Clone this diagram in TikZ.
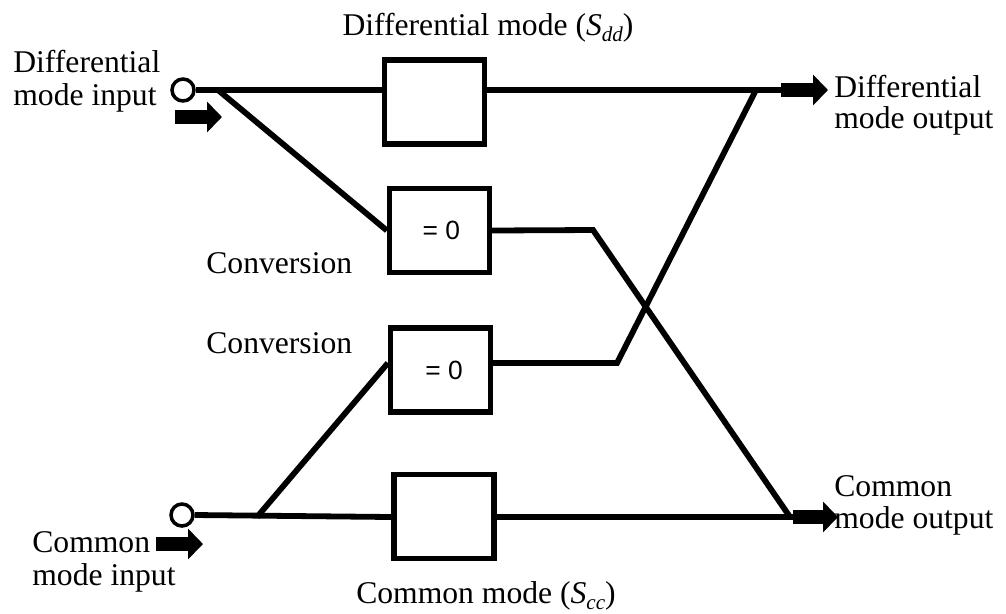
\documentclass[tikz,border=0pt]{standalone}
\usepackage{fontspec}
\setmainfont{Liberation Serif}
\newfontfamily\sansfam{Liberation Sans}
\usetikzlibrary{arrows.meta}

\newcommand{\subit}[1]{\raisebox{-3.5pt}{\fontsize{12}{12}\selectfont\itshape #1}}

\begin{document}
\begin{tikzpicture}[
  x=0.02cm, y=-0.02cm,
  blk/.style={rectangle, draw, line width=3pt, minimum width=2cm, minimum height=1.68cm, font=\sansfam\fontsize{15}{17}\selectfont},
  port/.style={circle, draw, line width=2pt, minimum size=0.44cm, inner sep=0pt},
  wire/.style={line width=3.3pt},
  fat/.style={line width=0.27cm, -{Triangle[length=0.3cm, width=0.6cm]}},
  lbl/.style={inner sep=0pt, align=left, font=\fontsize{18}{16.5}\selectfont}
]
\useasboundingbox (0,0) rectangle (1006,613);

% blocks
\node[blk] (dmbox) at (434.5,102) {};
\node[blk] (convup) at (439.5,230.5) {\hspace{2pt}= 0};
\node[blk] (convlow) at (440.5,370) {\hspace{4pt}= 0};
\node[blk] (cmbox) at (444,516.5) {};

% ports
\node[port] (dmin) at (183,90) {};
\node[port] (cmin) at (182,515) {};

% junctions and bends
\coordinate (jdin) at (218,90);
\coordinate (jcin) at (257,517);
\coordinate (bendA) at (593,230);
\coordinate (bendB) at (617,363);
\coordinate (mergeA) at (756,90);
\coordinate (mergeB) at (790,517);
\coordinate (dmout) at (781,90);
\coordinate (cmout) at (793,517);

% wires
\draw[wire] (dmin.east) -- (dmbox.west |- dmin);
\draw[wire] (dmbox.east |- dmin) -- (dmout);
\draw[wire] (jdin) -- (convup.west);
\draw[wire] (convup.east) -- (bendA) -- (mergeB);
\draw[wire] (cmin.east) -- (cmbox.west |- jcin);
\draw[wire] (cmbox.east |- jcin) -- (cmout);
\draw[wire] (jcin) -- (convlow.west |- bendB);
\draw[wire] (convlow.east |- bendB) -- (bendB) -- (mergeA);

% mode arrows
\coordinate (dmarrA) at (175,117);
\coordinate (dmarrB) at (222,117);
\coordinate (cmarrA) at (156,544);
\coordinate (cmarrB) at (203,544);
\coordinate (dmoutB) at (828,90);
\coordinate (cmoutB) at (838,517);
\draw[fat] (dmarrA) -- (dmarrB);
\draw[fat] (cmarrA) -- (cmarrB);
\draw[fat] (dmout) -- (dmoutB);
\draw[fat] (cmout) -- (cmoutB);

% labels
\node[lbl, anchor=base] (dmlbl) at (488,35) {Differential mode (\textit{S}\subit{dd})};
\node[lbl, anchor=base] (cmlbl) at (486,603) {Common mode (\textit{S}\subit{cc})};
\node[lbl, anchor=base west] (dminlbl) at (13,72) {Differential};
\node[lbl, anchor=base west] (dminlbl2) at (13,105) {mode input};
\node[lbl, anchor=base west] (cminlbl) at (32,552) {Common};
\node[lbl, anchor=base west] (cminlbl2) at (32,585) {mode input};
\node[lbl, anchor=base west] (dmoutlbl) at (834,97) {Differential};
\node[lbl, anchor=base west] (dmoutlbl2) at (834,128) {mode output};
\node[lbl, anchor=base west] (cmoutlbl) at (834,496) {Common};
\node[lbl, anchor=base west] (cmoutlbl2) at (834,528) {mode output};
\node[lbl, anchor=base west] (convuplbl) at (206,273) {Conversion};
\node[lbl, anchor=base west] (convlowlbl) at (206,353) {Conversion};
\end{tikzpicture}
\end{document}
